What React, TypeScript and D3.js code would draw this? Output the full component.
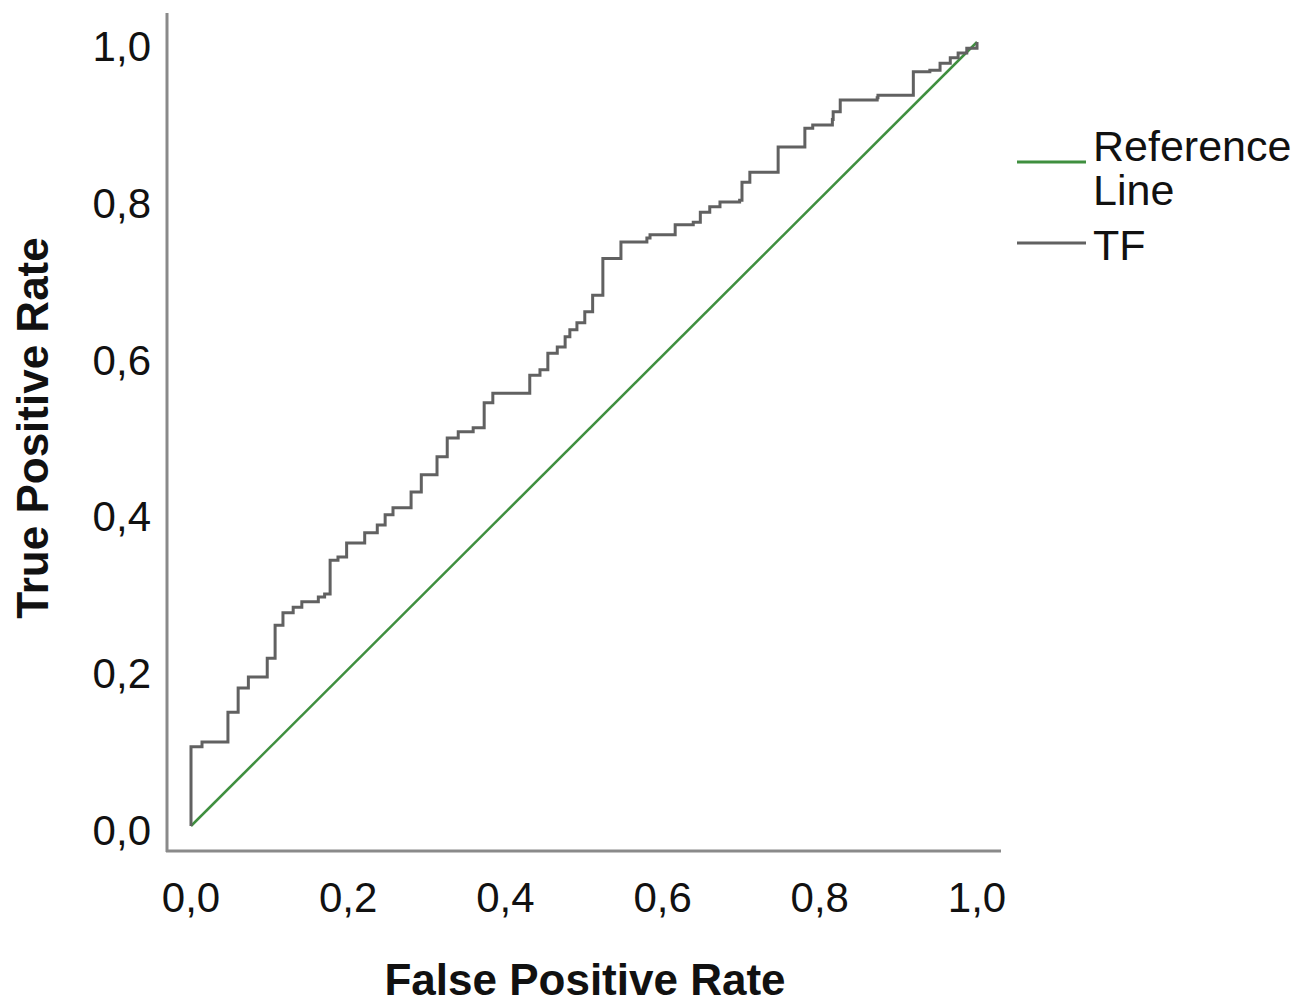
import React from "react";
import * as d3 from "d3";

const fprValues = [0, 0, 0.014, 0.047, 0.06, 0.073, 0.097, 0.107, 0.117, 0.13, 0.141, 0.162, 0.17, 0.177, 0.187, 0.198, 0.221, 0.237, 0.247, 0.257, 0.28, 0.293, 0.313, 0.326, 0.34, 0.359, 0.373, 0.384, 0.431, 0.444, 0.454, 0.466, 0.476, 0.482, 0.491, 0.501, 0.511, 0.524, 0.547, 0.58, 0.584, 0.616, 0.639, 0.648, 0.66, 0.673, 0.698, 0.701, 0.711, 0.747, 0.781, 0.791, 0.816, 0.817, 0.826, 0.873, 0.874, 0.919, 0.94, 0.953, 0.966, 0.976, 0.987, 1];
const tprValues = [0, 0.101, 0.107, 0.145, 0.176, 0.19, 0.214, 0.256, 0.272, 0.279, 0.286, 0.292, 0.296, 0.339, 0.343, 0.361, 0.374, 0.384, 0.397, 0.406, 0.426, 0.448, 0.471, 0.495, 0.503, 0.508, 0.54, 0.552, 0.575, 0.582, 0.603, 0.611, 0.624, 0.633, 0.642, 0.656, 0.677, 0.724, 0.745, 0.75, 0.754, 0.767, 0.77, 0.783, 0.79, 0.796, 0.798, 0.821, 0.834, 0.866, 0.89, 0.894, 0.901, 0.911, 0.926, 0.929, 0.932, 0.962, 0.964, 0.973, 0.98, 0.986, 0.992, 1];
const referenceLine = [0, 1];
const tickValues = [0, 0.2, 0.4, 0.6, 0.8, 1.0];
const legendLabels = [["Reference", "Line"], ["TF"]];

const GREEN = "#3f8f3f";
const GRAY = "#616161";
const AXIS = "#8a8a8a";
const FONT = "'Liberation Sans', Arial, sans-serif";

export default function App() {
  const x = d3.scaleLinear().domain([0, 1]).range([191, 977]);
  const y = d3.scaleLinear().domain([0, 1]).range([826, 42]);
  const fmt = (v: number) => d3.format(".1f")(v).replace(".", ",");

  const pts: [number, number][] = fprValues.map((f, i) => [f, tprValues[i]]);
  const stepLine = d3
    .line<[number, number]>()
    .x((d) => x(d[0]))
    .y((d) => y(d[1]))
    .curve(d3.curveStepAfter);
  const refLine = d3
    .line<number>()
    .x((d) => x(d))
    .y((d) => y(d));

  return (
    <svg
      width={1309}
      height={1004}
      style={{ position: "absolute", left: 0, top: 0, background: "#fff" }}
      fontFamily={FONT}
    >
      {/* axes */}
      <line x1={167} y1={13} x2={167} y2={852} stroke={AXIS} strokeWidth={3} />
      <line x1={166} y1={851} x2={1001} y2={851} stroke={AXIS} strokeWidth={3} />

      {/* y tick labels */}
      {tickValues.map((v) => (
        <text key={"y" + v} x={151} y={y(v) + 19} textAnchor="end" fontSize={42} fill="#111">
          {fmt(v)}
        </text>
      ))}
      {/* x tick labels */}
      {tickValues.map((v) => (
        <text key={"x" + v} x={x(v)} y={912} textAnchor="middle" fontSize={42} fill="#111">
          {fmt(v)}
        </text>
      ))}

      {/* axis titles */}
      <text x={585} y={995} textAnchor="middle" fontSize={44} fontWeight="bold" fill="#111">
        False Positive Rate
      </text>
      <text
        transform={`translate(48,428) rotate(-90)`}
        textAnchor="middle"
        fontSize={44}
        fontWeight="bold"
        fill="#111"
      >
        True Positive Rate
      </text>

      {/* reference line */}
      <path d={refLine(referenceLine) || ""} fill="none" stroke={GREEN} strokeWidth={2.5} />
      {/* ROC curve */}
      <path d={stepLine(pts) || ""} fill="none" stroke={GRAY} strokeWidth={3} strokeLinejoin="miter" />

      {/* legend */}
      <line x1={1017} y1={162} x2={1086} y2={162} stroke={GREEN} strokeWidth={3} />
      <text x={1093} y={161} fontSize={43} fill="#111">
        {legendLabels[0][0]}
      </text>
      <text x={1093} y={205} fontSize={43} fill="#111">
        {legendLabels[0][1]}
      </text>
      <line x1={1017} y1={243} x2={1086} y2={243} stroke={GRAY} strokeWidth={3} />
      <text x={1093} y={260} fontSize={43} fill="#111">
        {legendLabels[1][0]}
      </text>
    </svg>
  );
}
